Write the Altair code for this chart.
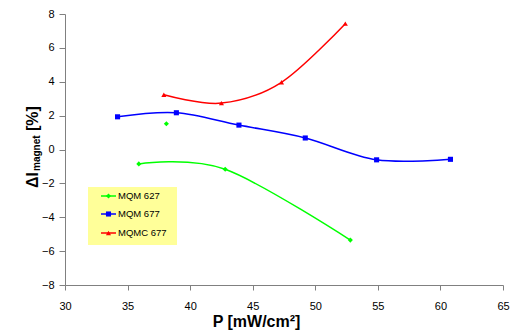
import altair as alt
import pandas as pd

# ---- data ----
series_names = ["MQM 627", "MQM 677", "MQMC 677"]
series_colors = ["#00FF00", "#0000FF", "#FF0000"]
series_shapes = ["diamond", "square", "triangle-up"]

p_mqm627 = [35.9, 42.8, 52.8]
d_mqm627 = [-0.85, -1.17, -5.35]
p_mqm627_extra = [38.1]
d_mqm627_extra = [1.52]

p_mqm677 = [34.2, 38.9, 43.9, 49.2, 54.9, 60.8]
d_mqm677 = [1.93, 2.17, 1.44, 0.68, -0.61, -0.58]

p_mqmc677 = [37.9, 42.5, 47.3, 52.4]
d_mqmc677 = [3.23, 2.74, 3.97, 7.43]

x_ticks = [30, 35, 40, 45, 50, 55, 60, 65]
y_ticks = [-8, -6, -4, -2, 0, 2, 4, 6, 8]

FONT = "Liberation Sans"

def frame(xs, ys, name):
    return pd.DataFrame({"P": xs, "dI": ys, "series": name})

lines_df = pd.concat([
    frame(p_mqm627, d_mqm627, series_names[0]),
    frame(p_mqm677, d_mqm677, series_names[1]),
    frame(p_mqmc677, d_mqmc677, series_names[2]),
], ignore_index=True)
points_df = pd.concat([
    lines_df,
    frame(p_mqm627_extra, d_mqm627_extra, series_names[0]),
], ignore_index=True)

xscale = alt.Scale(domain=[30, 65], nice=False, zero=False)
yscale = alt.Scale(domain=[-8, 8], nice=False, zero=False)
cscale = alt.Scale(domain=series_names, range=series_colors)
sscale = alt.Scale(domain=series_names, range=series_shapes)

x_enc = alt.X("P:Q", scale=xscale,
              axis=alt.Axis(values=x_ticks, title="P [mW/cm²]",
                            titleX=191, titleY=41, titleAlign="center",
                            titleBaseline="alphabetic", titleFontSize=16,
                            titleFontWeight="bold", titleFont=FONT,
                            tickSize=5, labelPadding=10, labelFlush=False))
y_enc = alt.Y("dI:Q", scale=yscale,
              axis=alt.Axis(values=y_ticks, title=None, tickSize=6, labelPadding=5,
                            labelFlush=False))

lines = alt.Chart(lines_df).mark_line(interpolate="cardinal", strokeWidth=1.5).encode(
    x=x_enc, y=y_enc,
    color=alt.Color("series:N", scale=cscale, legend=None),
    order="P:Q",
)
points = alt.Chart(points_df).mark_point(filled=True, size=26, opacity=1).encode(
    x=x_enc, y=y_enc,
    color=alt.Color("series:N", scale=cscale, legend=None),
    shape=alt.Shape("series:N", scale=sscale, legend=None),
)

layers = [lines, points]

# ---- custom legend (yellow box) ----
base = alt.Chart(pd.DataFrame({"a": [0]}))
layers.append(base.mark_rect(color="#FFFF99").encode(
    x=alt.value(23), x2=alt.value(112), y=alt.value(173), y2=alt.value(231)))
entry_y = [182, 200, 219]
for name, col, shp, yy in zip(series_names, series_colors, series_shapes, entry_y):
    layers.append(base.mark_rule(color=col, strokeWidth=1.5).encode(
        x=alt.value(36), x2=alt.value(51), y=alt.value(yy)))
    layers.append(base.mark_point(shape=shp, color=col, filled=True, size=26, opacity=1).encode(
        x=alt.value(43.5), y=alt.value(yy)))
    layers.append(base.mark_text(text=name, align="left", baseline="middle",
                                 font=FONT, fontSize=9.5, color="black").encode(
        x=alt.value(53), y=alt.value(yy)))

# ---- y axis title with subscript ----
layers.append(base.mark_text(text="ΔI", angle=270, align="left", baseline="alphabetic",
                             font=FONT, fontSize=16, fontWeight="bold", color="black").encode(
    x=alt.value(-27), y=alt.value(174)))
layers.append(base.mark_text(text="magnet", angle=270, align="left", baseline="alphabetic",
                             font=FONT, fontSize=10, fontWeight="bold", color="black").encode(
    x=alt.value(-25), y=alt.value(157)))
layers.append(base.mark_text(text="[%]", angle=270, align="left", baseline="alphabetic",
                             font=FONT, fontSize=16, fontWeight="bold", color="black").encode(
    x=alt.value(-27), y=alt.value(117)))

chart = alt.layer(*layers).properties(
    width=438, height=271,
    autosize=alt.AutoSizeParams(type="none"),
    padding={"left": 57, "top": 6, "right": 7, "bottom": 48},
).configure_view(stroke=None).configure_axis(
    grid=False, domainColor="#808080", tickColor="#808080",
    labelFont=FONT, labelFontSize=11, labelColor="black",
)

chart.save("out.html", embed_options={"renderer": "svg", "actions": False})
